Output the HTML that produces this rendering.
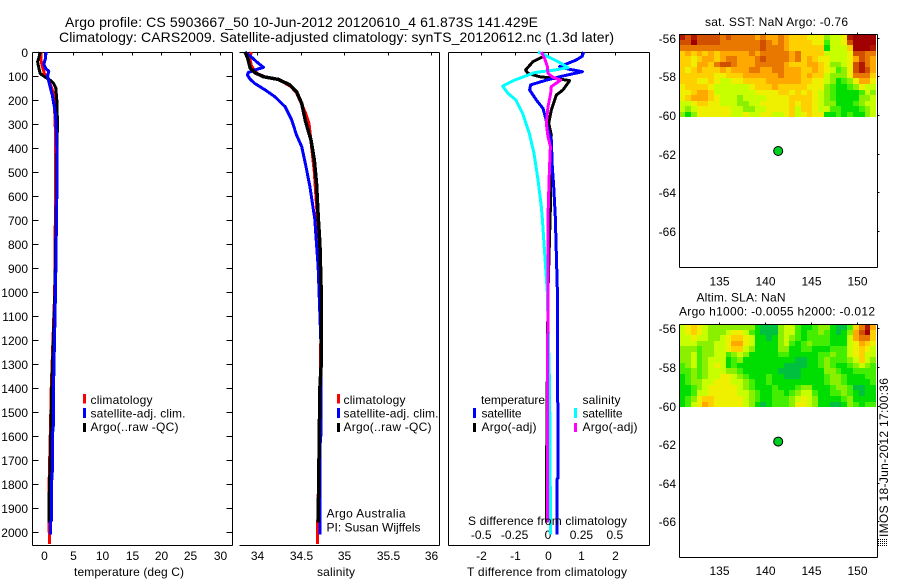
<!DOCTYPE html>
<html>
<head>
<meta charset="utf-8">
<title>Argo profile 5903667_50</title>
<style>
html,body{margin:0;padding:0;background:#fff;}
#chart{display:block;width:900px;height:580px;}
text{font-family:"Liberation Sans",Arial,sans-serif;font-size:12px;fill:#000;}
.t14{font-size:14px;}
</style>
</head>
<body>
<svg id="chart" xmlns="http://www.w3.org/2000/svg" width="900" height="580" viewBox="0 0 900 580">
<rect x="0" y="0" width="900" height="580" fill="#fff"/>
<g id="marks"></g>
<text class="t14" x="65" y="27" textLength="473" lengthAdjust="spacing">Argo profile: CS 5903667_50 10-Jun-2012 20120610_4 61.873S 141.429E</text>
<text class="t14" x="59" y="42" textLength="555" lengthAdjust="spacing">Climatology: CARS2009. Satellite-adjusted climatology: synTS_20120612.nc (1.3d later)</text>

<text x="74" y="576" textLength="110" lengthAdjust="spacing">temperature (deg C)</text>
<text x="317" y="576" textLength="38" lengthAdjust="spacing">salinity</text>
<text x="467" y="576" textLength="160" lengthAdjust="spacing">T difference from climatology</text>
<text x="468" y="525" textLength="159" lengthAdjust="spacing">S difference from climatology</text>

<g>
<rect x="83" y="394" width="3" height="9.5" fill="#f00"/>
<rect x="83" y="408" width="3" height="10" fill="#00f"/>
<rect x="83" y="423" width="3" height="9" fill="#000"/>
<text x="90.5" y="404" textLength="62" lengthAdjust="spacing">climatology</text>
<text x="90.5" y="417.5" textLength="95" lengthAdjust="spacing">satellite-adj. clim.</text>
<text x="90.5" y="431" textLength="88" lengthAdjust="spacing">Argo(..raw -QC)</text>
</g>
<g>
<rect x="337" y="394" width="3" height="9.5" fill="#f00"/>
<rect x="337" y="408" width="3" height="10" fill="#00f"/>
<rect x="337" y="423" width="3" height="9" fill="#000"/>
<text x="343.5" y="404" textLength="62" lengthAdjust="spacing">climatology</text>
<text x="343.5" y="417.5" textLength="95" lengthAdjust="spacing">satellite-adj. clim.</text>
<text x="343.5" y="431" textLength="88" lengthAdjust="spacing">Argo(..raw -QC)</text>
</g>
<text x="326.5" y="517.5" textLength="79" lengthAdjust="spacing">Argo Australia</text>
<text x="326.5" y="531.5" textLength="94" lengthAdjust="spacing">PI: Susan Wijffels</text>

<g>
<text x="481" y="404" textLength="64" lengthAdjust="spacing">temperature</text>
<rect x="473" y="408" width="3" height="10" fill="#00f"/>
<rect x="473" y="423" width="3" height="9" fill="#000"/>
<text x="481.5" y="417.5" textLength="40" lengthAdjust="spacing">satellite</text>
<text x="481.5" y="431" textLength="55" lengthAdjust="spacing">Argo(-adj)</text>
<text x="582.5" y="404" textLength="38" lengthAdjust="spacing">salinity</text>
<rect x="574" y="408" width="3" height="10" fill="#0ff"/>
<rect x="574" y="423" width="3" height="9" fill="#f0f"/>
<text x="582.5" y="417.5" textLength="40" lengthAdjust="spacing">satellite</text>
<text x="582.5" y="431" textLength="55" lengthAdjust="spacing">Argo(-adj)</text>
</g>

<text x="705" y="26" textLength="143" lengthAdjust="spacing">sat. SST: NaN Argo: -0.76</text>
<text x="696.5" y="301.5" textLength="89" lengthAdjust="spacing">Altim. SLA: NaN</text>
<text x="679" y="315.5" textLength="196" lengthAdjust="spacing">Argo h1000: -0.0055 h2000: -0.012</text>
<text transform="translate(888,537) rotate(-90)" x="0" y="0" textLength="159" lengthAdjust="spacing">IMOS 18-Jun-2012 17:00:36</text>
<g stroke="#000" stroke-width="1" stroke-dasharray="1 1" shape-rendering="crispEdges">
<line x1="878" y1="539.5" x2="888" y2="539.5"/>
<line x1="878" y1="541.5" x2="888" y2="541.5"/>
<line x1="878" y1="543.5" x2="888" y2="543.5"/>
<line x1="878" y1="545.5" x2="888" y2="545.5"/>
</g>
</svg>

<script>
// ---------- tick values ----------
var depthTicks = [0,100,200,300,400,500,600,700,800,900,1000,1100,1200,1300,1400,1500,1600,1700,1800,1900,2000];
var tempTicks = [0,5,10,15,20,25,30];
var salTicks = [34,34.5,35,35.5,36];
var salTickLabels = ['34','34.5','35','35.5','36'];
var tDiffTicks = [-2,-1,0,1,2];
var tDiffTickLabels = ['-2','-1','0','1','2'];
var sDiffTicks = [-0.5,-0.25,0,0.25,0.5];
var sDiffTickLabels = ['-0.5','-0.25','0','0.25','0.5'];
var lonTicks = [135,140,145,150];
var latTicks = [-56,-58,-60,-62,-64,-66];
var latTickLabels = ['-56','-58','-60','-62','-64','-66'];
var argoLon = 141.43;
var argoLat = -61.87;

// ---------- temperature profiles ----------
var tempClimDepth = [0,30,60,90,110,150,180,340,600,1000,1450,1500,1850,2050];
var tempClim = [-0.45,-0.45,-0.2,0.15,0.75,1.4,1.8,2.05,2.05,1.9,1.25,1.25,0.9,1.0];
var tempSatDepth = [0,30,50,70,80,100,130,180,250,300,400,600,1000,1400,1550,1600,1750,1800,1950,1960,2010];
var tempSat = [0.45,0.3,0.05,0.4,0.9,0.7,0.97,1.5,2.0,2.15,2.27,2.27,2.05,1.7,1.7,1.5,1.5,1.36,1.36,1.2,1.2];
var tempArgoDepth = [0,30,40,60,90,105,115,130,150,200,300,400,600,1000,1400,1700,1900,1960];
var tempArgo = [-0.57,-0.85,-1.0,-0.85,-0.57,0.3,1.0,1.7,2.1,2.27,2.39,2.27,2.2,1.95,1.4,1.14,0.9,0.9];

// ---------- salinity profiles ----------
var salClimDepth = [0,30,60,90,105,115,130,145,170,250,300,400,500,800,1200,1650,1850,2050];
var salClim = [33.93,33.915,33.935,34,34.1,34.24,34.32,34.39,34.45,34.55,34.595,34.625,34.655,34.71,34.73,34.715,34.7,34.69];
var salSatDepth = [0,17,40,64,75,85,96,114,131,158,186,228,283,346,394,478,561,658,693,900,1200,1600,1650,2010];
var salSat = [33.86,33.92,33.99,34.07,33.97,33.9,33.885,33.92,33.97,34.09,34.2,34.32,34.395,34.45,34.51,34.56,34.605,34.645,34.66,34.7,34.73,34.73,34.72,34.72];
var salArgoDepth = [0,26,54,68,86,103,114,137,165,214,290,367,450,547,686,800,1000,1300,1400,1960];
var salArgo = [33.86,33.89,33.91,33.92,33.97,34.07,34.24,34.375,34.45,34.51,34.555,34.617,34.655,34.68,34.7,34.72,34.735,34.735,34.72,34.7];

// ---------- difference profiles ----------
var dTSatDepth = [0,17,33,47,61,71,82,103,119,137,158,200,235,276,325,367,478,561,686,1000,1775,1780,2010];
var dTSat = [1.07,1.03,0.85,0.6,0.35,0.6,1.03,0.35,-0.1,-0.52,-0.55,-0.35,-0.15,-0.07,0,0.1,0.13,0.17,0.22,0.28,0.3,0.27,0.27];
var dTArgoDepth = [19,40,75,89,103,110,119,158,179,242,297,346,422,603,1000,1500,1900,1960];
var dTArgo = [-0.15,-0.45,-0.67,-0.6,-0.25,0.2,0.65,0.45,0.25,0.1,0.02,0.1,0.06,0.08,0,-0.03,-0.05,-0.05];
var dSSatDepth = [0,13,40,65,75,86,117,142,172,200,256,339,422,533,644,693,1000,1400,1900,2010];
var dSSat = [-0.075,-0.025,0.075,0.15,0.05,-0.1,-0.25,-0.34,-0.3,-0.24,-0.19,-0.14,-0.105,-0.075,-0.05,-0.043,-0.005,0.012,0.018,0.018];
var dSArgoDepth = [0,27,61,89,106,117,144,172,228,297,353,394,506,686,1000,1500,1960];
var dSArgo = [-0.05,-0.025,-0.005,0,0.038,0.095,0.025,0.02,0,-0.0125,0,0.018,0.01,0,0,-0.005,-0.005];

// ---------- map values (colour index, dark green 0 to dark red 11) ----------
var sstGrid = [
[10,9,10,9,9,9,9,8,9,8,8,8,8,7,8,7,7,8,7,6,6,6,5,5,5,3,4,4,5,10,11,11,11,11],
[9,9,11,9,9,9,9,8,8,8,8,8,8,8,9,8,7,8,7,6,6,6,6,5,5,2,4,4,5,9,11,11,11,11],
[8,8,8,8,8,8,8,8,8,8,8,8,8,8,9,8,8,8,7,6,6,6,6,6,6,1,4,4,4,6,11,11,11,10],
[6,7,6,7,6,7,6,7,7,7,7,7,8,7,8,8,8,8,8,7,8,6,6,6,6,4,4,4,4,5,9,9,8,8],
[6,6,5,6,7,7,6,7,8,8,7,7,7,8,9,8,8,8,8,7,8,6,7,6,5,5,4,4,4,5,7,9,8,7],
[6,6,5,7,7,6,8,9,9,8,7,7,7,8,8,8,8,8,7,6,6,6,7,7,6,5,3,3,4,5,9,10,8,7],
[6,5,6,7,6,6,6,7,6,7,7,7,8,8,7,7,8,8,7,7,7,6,6,7,6,5,4,2,3,5,9,10,9,7],
[6,6,6,6,6,6,5,5,6,6,6,7,7,7,7,7,7,8,7,7,7,6,7,6,6,4,3,3,3,5,8,8,8,6],
[6,6,6,5,5,6,5,4,4,5,5,6,6,6,6,7,7,7,7,7,7,6,6,5,5,4,3,1,2,3,5,7,7,5],
[5,6,6,6,6,5,4,4,4,4,4,4,5,6,6,6,7,6,6,6,6,6,5,5,5,3,2,1,1,2,3,5,4,4],
[5,5,6,7,7,6,4,4,4,4,4,4,4,5,5,5,5,6,6,5,6,5,6,5,4,3,2,1,1,1,1,2,4,3],
[5,6,7,7,7,6,5,4,4,4,3,4,4,4,4,5,5,5,5,6,6,6,6,5,4,3,2,1,1,1,1,3,3,4],
[4,4,5,6,6,5,5,4,4,4,3,3,4,4,5,5,5,5,5,6,5,6,6,5,4,3,3,1,1,1,2,3,4,4],
[4,3,4,5,5,5,5,5,5,4,4,3,3,4,4,5,5,5,5,6,4,6,6,5,4,4,2,2,1,1,1,2,3,4],
[3,1,3,5,5,5,5,5,5,4,4,5,4,4,5,5,4,4,5,6,4,5,6,5,5,1,1,2,1,2,1,1,3,4]
];
var slaGrid = [
[4,5,6,5,4,3,3,3,3,3,3,3,3,1,0,0,0,3,4,4,2,1,1,2,3,3,1,0,0,2,6,8,10,7],
[4,5,6,5,4,3,3,3,4,5,5,4,2,1,0,0,0,3,4,4,2,1,2,2,3,2,1,0,1,3,7,9,11,6],
[4,4,5,4,4,3,3,4,5,6,6,5,4,1,1,0,1,3,4,3,2,1,2,2,2,2,1,1,1,4,7,8,8,6],
[4,4,4,3,3,3,4,4,5,7,7,5,4,1,1,1,1,3,4,2,1,2,3,2,2,2,1,1,1,4,5,7,6,5],
[3,3,3,2,3,3,4,4,5,6,6,4,3,1,1,1,1,3,3,1,1,2,2,1,1,1,2,2,2,4,5,6,5,4],
[3,3,4,2,3,3,4,4,2,3,4,3,1,1,1,1,1,2,2,1,1,1,1,1,2,2,3,2,2,4,5,6,4,4],
[3,3,4,2,3,4,4,4,1,2,3,1,1,1,1,1,1,1,1,1,0,0,1,1,2,3,2,2,2,3,4,6,4,3],
[2,3,4,2,3,4,5,4,1,2,1,1,1,1,1,1,1,1,0,0,0,0,1,1,2,3,2,1,1,2,3,4,3,2],
[2,2,3,2,3,4,4,4,3,3,2,1,1,1,1,1,1,0,0,0,0,1,1,1,1,3,3,2,1,1,2,2,2,2],
[1,2,3,2,3,4,4,5,5,4,3,2,1,1,1,2,1,1,0,0,0,1,1,1,1,2,3,3,2,1,1,1,2,2],
[1,2,3,3,4,4,5,5,5,4,4,3,2,1,1,2,1,1,1,1,1,1,1,1,1,2,3,3,2,1,1,1,1,2],
[1,1,2,3,4,5,5,5,5,5,4,3,2,1,1,1,2,1,1,1,2,3,3,1,1,1,2,3,3,2,0,0,1,1],
[1,1,2,4,4,5,5,5,5,5,4,4,3,2,1,1,2,2,1,2,3,4,4,2,1,1,2,2,3,2,1,0,1,1],
[1,2,3,5,6,6,5,5,5,5,5,4,3,2,1,1,2,2,2,3,4,5,4,3,1,1,1,1,2,3,1,1,1,1],
[1,2,4,5,7,6,5,5,5,5,5,4,3,1,0,1,2,2,2,3,5,5,4,3,1,1,0,0,1,3,2,1,2,2]
];
var mapPalette = ['#00c040','#00dd00','#44ee00','#8af000','#c8ff00','#eef000','#ffd000','#ffa800','#e87800','#d05000','#b01800','#a00000'];

// ---------- helpers ----------
var NS = 'http://www.w3.org/2000/svg';
var marks = document.getElementById('marks');

function drawLine(x1, y1, x2, y2, name) {
  var el = document.createElementNS(NS, 'line');
  
  
  el.setAttribute('x1', x1);
  el.setAttribute('y1', y1);
  el.setAttribute('x2', x2);
  el.setAttribute('y2', y2);
  el.setAttribute('stroke', '#000');
  el.setAttribute('stroke-width', '1');
  el.setAttribute('shape-rendering', 'crispEdges');
  marks.appendChild(el);
}
function drawText(str, x, y, anchor, name) {
  var el = document.createElementNS(NS, 'text');
  
  
  el.setAttribute('x', x);
  el.setAttribute('y', y);
  el.setAttribute('text-anchor', anchor);
  el.textContent = str;
  marks.appendChild(el);
}
function drawSeries(depths, values, xFn, color, width, name) {
  var d = '';
  for (var i = 0; i < values.length; i++) {
    d += (i ? 'L' : 'M') + xFn(values[i]).toFixed(1) + ' ' + yDepth(depths[i]).toFixed(1);
  }
  var el = document.createElementNS(NS, 'path');
  
  
  el.setAttribute('d', d);
  el.setAttribute('fill', 'none');
  el.setAttribute('stroke', color);
  el.setAttribute('stroke-width', width);
  el.setAttribute('stroke-linejoin', 'round');
  el.setAttribute('shape-rendering', 'crispEdges');
  marks.appendChild(el);
}

// ---------- axis functions ----------
var plotTop = 52.5, plotBottom = 545.5;
function yDepth(d) { return 52 + d * 0.24; }
function xTemp(v) { return 43.5 + v * 5.87; }
function xSal(v) { return 257.3 + (v - 34) * 87; }
function xDT(v) { return 548 + v * 33.4; }
function xDS(v) { return 548 + v * 133.6; }
function xLon(v) { return 719.3 + (v - 135) * 9.16; }
function ySst(v) { return 37.7 + (-56 - v) * 19.3; }
function ySla(v) { return 328.3 + (-56 - v) * 19.3; }

// ---------- profile panels ----------
function panelFrame(left, right, hasLeft, name) {
  drawLine(left, plotTop, right, plotTop, name + '-top-axis');
  drawLine(left, plotBottom, right, plotBottom, name + '-bottom-axis');
  drawLine(right, plotTop, right, plotBottom, name + '-right-axis');
  if (hasLeft) {
    drawLine(left, plotTop, left, plotBottom, name + '-left-axis');
  }
}
function xTicks(ticks, labels, xFn, baseline, name) {
  for (var i = 0; i < ticks.length; i++) {
    var px = Math.round(xFn(ticks[i])) + 0.5;
    drawLine(px, plotTop, px, plotTop + 3, name + '-tick');
    drawText(labels[i], px, baseline, 'middle', name + '-tick-label');
  }
}

panelFrame(32.5, 232.5, true, 'temperature-panel');
panelFrame(239.5, 439.5, false, 'salinity-panel');
panelFrame(448.5, 649.5, true, 'difference-panel');

for (var i = 0; i < depthTicks.length; i++) {
  var py = Math.round(yDepth(depthTicks[i])) + 0.5;
  drawLine(32.5, py, 38.5, py, 'depth-tick-left');
  drawLine(226.5, py, 232.5, py, 'depth-tick-right');
  drawText(String(depthTicks[i]), 28, py + 4.5, 'end', 'depth-tick-label');
}
xTicks(tempTicks, tempTicks.map(String), xTemp, 560, 'temperature');
xTicks(salTicks, salTickLabels, xSal, 560, 'salinity');
xTicks(tDiffTicks, tDiffTickLabels, xDT, 560, 't-difference');
for (var j = 0; j < sDiffTicks.length; j++) {
  drawText(sDiffTickLabels[j], xDS(sDiffTicks[j]), 539, 'middle', 's-difference-tick-label');
}

drawSeries(tempClimDepth, tempClim, xTemp, '#f00', 3, 'temperature-climatology-line');
drawSeries(tempArgoDepth, tempArgo, xTemp, '#000', 3, 'temperature-argo-line');
drawSeries(tempSatDepth, tempSat, xTemp, '#00f', 3, 'temperature-satellite-line');

drawSeries(salClimDepth, salClim, xSal, '#f00', 3, 'salinity-climatology-line');
drawSeries(salSatDepth, salSat, xSal, '#00f', 3, 'salinity-satellite-line');
drawSeries(salArgoDepth, salArgo, xSal, '#000', 3.5, 'salinity-argo-line');

drawSeries(dTArgoDepth, dTArgo, xDT, '#000', 3, 't-difference-argo-line');
drawSeries(dTSatDepth, dTSat, xDT, '#00f', 3, 't-difference-satellite-line');
drawSeries(dSSatDepth, dSSat, xDS, '#0ff', 3, 's-difference-satellite-line');
drawSeries(dSArgoDepth, dSArgo, xDS, '#f0f', 3, 's-difference-argo-line');

// ---------- maps ----------
function drawHeatmap(grid, yFn, latTop, latBottom, name) {
  var lonLeft = 130.63, lonRight = 152.13;
  var rows = grid.length;
  for (var r = 0; r < rows; r++) {
    var cols = grid[r].length;
    for (var c = 0; c < cols; c++) {
      var x0 = Math.round(xLon(lonLeft + (lonRight - lonLeft) * c / cols));
      var x1 = Math.round(xLon(lonLeft + (lonRight - lonLeft) * (c + 1) / cols));
      var y0 = Math.round(yFn(latTop + (latBottom - latTop) * r / rows));
      var y1 = Math.round(yFn(latTop + (latBottom - latTop) * (r + 1) / rows));
      var idx = Math.max(0, Math.min(mapPalette.length - 1, Math.round(grid[r][c])));
      var el = document.createElementNS(NS, 'rect');
      
      
      el.setAttribute('x', x0);
      el.setAttribute('y', y0);
      el.setAttribute('width', x1 - x0);
      el.setAttribute('height', y1 - y0);
      el.setAttribute('fill', mapPalette[idx]);
      el.setAttribute('shape-rendering', 'crispEdges');
      marks.appendChild(el);
    }
  }
}
function drawMapFrame(yFn, top, bottom, name) {
  var left = 679.5, right = 877.5;
  drawLine(left, top, right, top, name + '-top-axis');
  drawLine(left, bottom, right, bottom, name + '-bottom-axis');
  drawLine(left, top, left, bottom, name + '-left-axis');
  drawLine(right, top, right, bottom, name + '-right-axis');
  for (var i = 0; i < lonTicks.length; i++) {
    var px = Math.round(xLon(lonTicks[i])) + 0.5;
    drawLine(px, top - 2, px, top, name + '-lon-tick');
    drawText(String(lonTicks[i]), px, bottom === 557.5 ? 575 : bottom + 18, 'middle', name + '-lon-label');
  }
  for (var j = 0; j < latTicks.length; j++) {
    var py = Math.round(yFn(latTicks[j])) + 0.5;
    drawLine(right, py, right + 2, py, name + '-lat-tick');
    drawText(latTickLabels[j], 676, py + 4.5, 'end', name + '-lat-label');
  }
}
function drawArgoMarker(yFn, name) {
  var el = document.createElementNS(NS, 'circle');
  
  
  el.setAttribute('cx', xLon(argoLon));
  el.setAttribute('cy', yFn(argoLat));
  el.setAttribute('r', 4.5);
  el.setAttribute('fill', '#00d020');
  el.setAttribute('stroke', '#000');
  el.setAttribute('stroke-width', '1');
  marks.appendChild(el);
}

drawHeatmap(sstGrid, ySst, -55.82, -60.12, 'sst-cell');
drawMapFrame(ySst, 34.5, 267.5, 'sst-map');
drawArgoMarker(ySst, 'sst-argo-marker');

drawHeatmap(slaGrid, ySla, -55.78, -60.08, 'sla-cell');
drawMapFrame(ySla, 324.5, 557.5, 'sla-map');
drawArgoMarker(ySla, 'sla-argo-marker');
</script>
</body>
</html>
